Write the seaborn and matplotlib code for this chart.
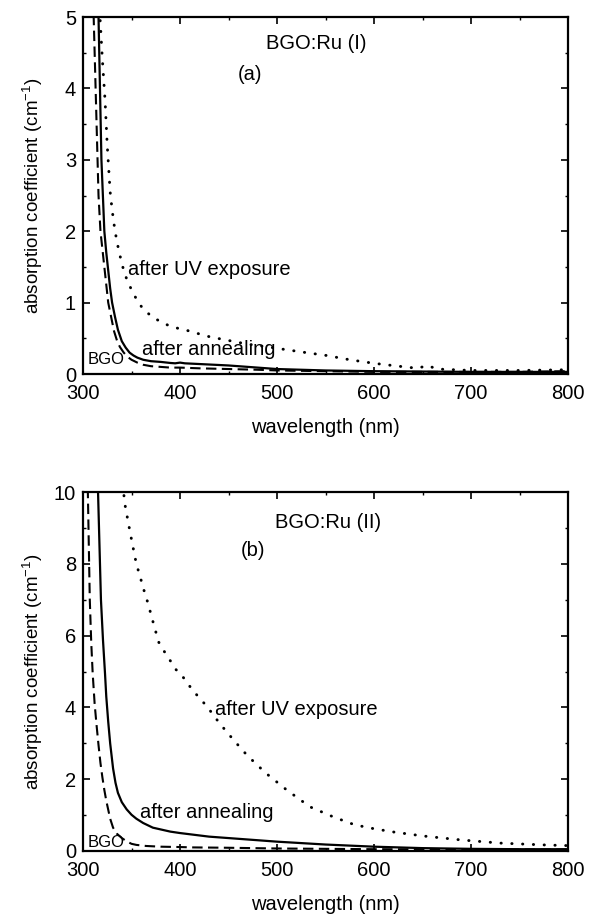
import numpy as np
import pandas as pd
import matplotlib
matplotlib.use("Agg")
import matplotlib.pyplot as plt
from matplotlib.ticker import MultipleLocator
import seaborn as sns

# ---- panel (a): BGO:Ru (I) ----
bgo_a_wl = [310, 311, 313, 315, 316, 318, 320, 322, 324, 326, 329, 332, 335, 338,
            342, 346, 350, 356, 362, 370, 380, 390, 400, 420, 450, 480, 500, 550,
            600, 650, 700, 750, 800]
bgo_a = [5.6, 5.0, 4.0, 3.0, 2.5, 2.0, 1.75, 1.5, 1.25, 1.0, 0.8, 0.6, 0.47, 0.38,
         0.3, 0.24, 0.2, 0.16, 0.13, 0.11, 0.1, 0.09, 0.09, 0.08, 0.07, 0.06, 0.05,
         0.04, 0.03, 0.03, 0.03, 0.03, 0.04]

ann_a_wl = [315, 316, 317.5, 319, 320.5, 322, 324, 326, 328, 330, 333, 336, 340,
            344, 348, 352, 356, 362, 370, 380, 390, 395, 400, 405, 420, 450, 470,
            500, 550, 600, 650, 700, 750, 800]
ann_a = [5.6, 5.0, 4.0, 3.0, 2.5, 2.0, 1.7, 1.45, 1.2, 1.0, 0.8, 0.62, 0.46, 0.37,
         0.3, 0.26, 0.23, 0.2, 0.18, 0.17, 0.155, 0.15, 0.16, 0.15, 0.14, 0.12, 0.1,
         0.07, 0.05, 0.04, 0.035, 0.03, 0.03, 0.03]

uv_a_wl = [316, 317.5, 320, 322.7, 325, 328, 330, 333, 337, 341, 345, 350, 357, 364,
           372, 380, 390, 398, 405, 415, 431, 450, 469, 490, 510, 530, 551, 575, 600,
           625, 645, 655, 665, 700, 750, 800]
uv_a = [5.6, 5.0, 4.4, 3.84, 3.2, 2.55, 2.3, 2.0, 1.72, 1.5, 1.33, 1.18, 1.0, 0.88,
        0.8, 0.73, 0.67, 0.64, 0.62, 0.58, 0.52, 0.47, 0.42, 0.38, 0.34, 0.3, 0.26,
        0.2, 0.15, 0.11, 0.08, 0.12, 0.07, 0.05, 0.05, 0.06]

# ---- panel (b): BGO:Ru (II) ----
bgo_b_wl = [304.5, 305, 306, 307, 308.5, 310, 312, 314, 316, 318, 320, 322, 324,
            326, 328, 331, 335, 340, 345, 350, 355, 365, 380, 400, 413, 450, 500,
            550, 600, 700, 800]
bgo_b = [11, 10, 8.5, 7, 5.8, 4.94, 4.1, 3.5, 2.95, 2.45, 2.05, 1.7, 1.4, 1.15, 0.9,
         0.65, 0.48, 0.36, 0.27, 0.2, 0.17, 0.14, 0.12, 0.11, 0.1, 0.09, 0.07, 0.06,
         0.05, 0.04, 0.04]

ann_b_wl = [315, 315.5, 317, 318.5, 320.6, 322.7, 324, 326, 328, 331, 333.5, 336, 340,
            345, 350, 355, 362, 372, 390, 400, 430, 450, 500, 550, 600, 650, 700,
            750, 800]
ann_b = [10.5, 10, 8.5, 7, 5.88, 4.94, 4.3, 3.6, 3.0, 2.3, 1.9, 1.62, 1.36, 1.16,
         1.01, 0.9, 0.78, 0.65, 0.54, 0.5, 0.4, 0.36, 0.26, 0.18, 0.12, 0.08, 0.06,
         0.05, 0.05]

uv_b_wl = [340, 343, 347, 351.5, 355, 359, 363, 367, 372, 378, 384, 390, 396, 403,
           413, 428, 441, 455, 469, 488, 510, 534, 558, 580, 600, 620, 650, 689, 730,
           774, 800]
uv_b = [10.5, 9.69, 9.1, 8.47, 8.0, 7.63, 7.25, 6.9, 6.4, 5.82, 5.55, 5.3, 5.05, 4.85,
        4.48, 4.02, 3.55, 3.1, 2.67, 2.18, 1.7, 1.23, 0.95, 0.73, 0.62, 0.53, 0.42,
        0.31, 0.22, 0.17, 0.15]

x_ticks = [300, 400, 500, 600, 700, 800]
y_ticks_a = [0, 1, 2, 3, 4, 5]
y_ticks_b = [0, 2, 4, 6, 8, 10]

sns.set_theme(style="ticks")
plt.rcParams["font.family"] = ["Liberation Sans", "DejaVu Sans"]
plt.rcParams["mathtext.default"] = "regular"
plt.rcParams["text.color"] = "black"
plt.rcParams["axes.labelcolor"] = "black"
plt.rcParams["xtick.color"] = "black"
plt.rcParams["ytick.color"] = "black"

FS = 14.5
DASHED = (0, (5, 2.6))
DOTTED = (0, (0.1, 3.6))

fig = plt.figure(figsize=(5.92, 9.19), dpi=100)
ax_a = fig.add_axes([0.1402, 0.5930, 0.8193, 0.3885])
ax_b = fig.add_axes([0.1402, 0.0740, 0.8193, 0.3906])


def draw_curves(ax, bgo_wl, bgo, ann_wl, ann, uv_wl, uv):
    sns.lineplot(x=bgo_wl, y=bgo, ax=ax, color="black", lw=1.5, linestyle=DASHED)
    sns.lineplot(x=ann_wl, y=ann, ax=ax, color="black", lw=1.6)
    sns.lineplot(x=uv_wl, y=uv, ax=ax, color="black", lw=2.1, linestyle=DOTTED,
                 dash_capstyle="round")


def style_axes(ax, yticks, ymax, yminor):
    ax.set_xlim(300, 800)
    ax.set_ylim(0, ymax)
    ax.set_xticks(x_ticks)
    ax.set_yticks(yticks)
    ax.xaxis.set_minor_locator(MultipleLocator(50))
    ax.yaxis.set_minor_locator(MultipleLocator(yminor))
    ax.tick_params(which="both", direction="in", top=True, right=True,
                   color="black", labelsize=FS, labelcolor="black")
    ax.tick_params(which="major", length=5, width=1.2)
    ax.tick_params(which="minor", length=2.5, width=1.0)
    ax.tick_params(axis="x", which="major", pad=7.5)
    ax.tick_params(axis="y", which="major", pad=5)
    for sp in ax.spines.values():
        sp.set_linewidth(1.6)
        sp.set_color("black")
    ax.set_xlabel("wavelength (nm)", fontsize=FS, color="black")
    ax.set_ylabel("absorption coefficient (cm$^{-1}$)", fontsize=13.5, color="black")
    ax.xaxis.label.set_va("center")
    ax.xaxis.set_label_coords(0.5, -0.15)
    ax.yaxis.label.set_va("center")
    ax.yaxis.set_label_coords(-0.103, 0.5)
    ax.set_facecolor("white")


draw_curves(ax_a, bgo_a_wl, bgo_a, ann_a_wl, ann_a, uv_a_wl, uv_a)
style_axes(ax_a, y_ticks_a, 5, 0.5)
ax_a.text(540, 4.63, "BGO:Ru (I)", ha="center", va="center", fontsize=FS)
ax_a.text(472, 4.19, "(a)", ha="center", va="center", fontsize=FS)
ax_a.text(346, 1.46, "after UV exposure", ha="left", va="center", fontsize=FS)
ax_a.text(361, 0.34, "after annealing", ha="left", va="center", fontsize=FS)
ax_a.text(305, 0.2, "BGO", ha="left", va="center", fontsize=12)

draw_curves(ax_b, bgo_b_wl, bgo_b, ann_b_wl, ann_b, uv_b_wl, uv_b)
style_axes(ax_b, y_ticks_b, 10, 1)
ax_b.text(553, 9.16, "BGO:Ru (II)", ha="center", va="center", fontsize=FS)
ax_b.text(475, 8.38, "(b)", ha="center", va="center", fontsize=FS)
ax_b.text(436, 3.93, "after UV exposure", ha="left", va="center", fontsize=FS)
ax_b.text(359, 1.06, "after annealing", ha="left", va="center", fontsize=FS)
ax_b.text(305, 0.25, "BGO", ha="left", va="center", fontsize=12)

fig.savefig("out.png", dpi=100, facecolor="white")
